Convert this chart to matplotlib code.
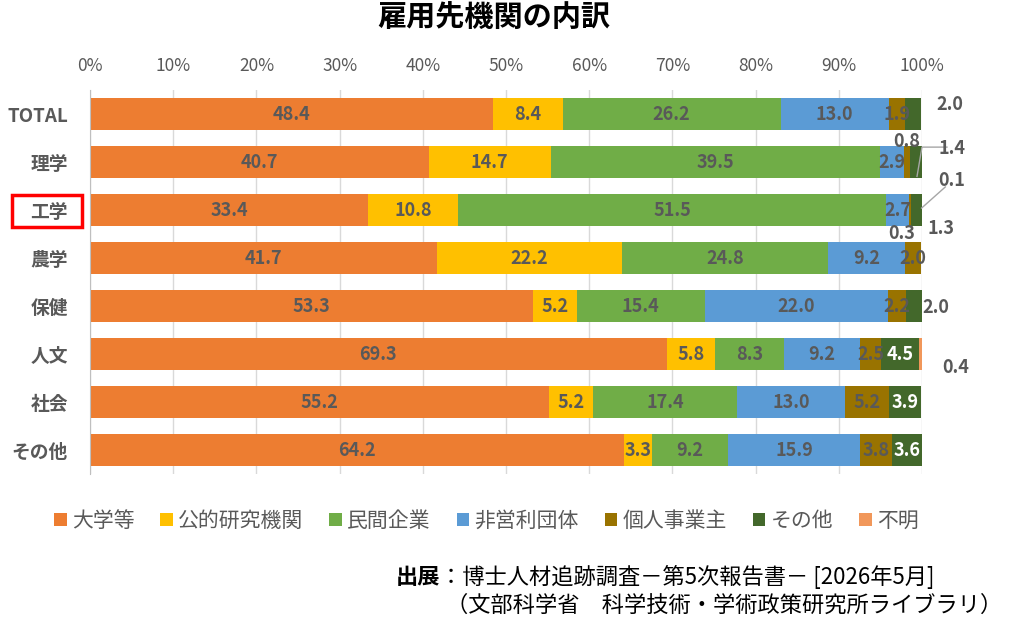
import matplotlib
matplotlib.use("Agg")
import matplotlib.pyplot as plt
from matplotlib.patches import Rectangle, Patch

plt.rcParams['font.family'] = ['Noto Sans CJK JP', 'DejaVu Sans']

# data (percent)
categories = ['TOTAL', '理学', '工学', '農学', '保健', '人文', '社会', 'その他']
series = ['大学等', '公的研究機関', '民間企業', '非営利団体', '個人事業主', 'その他', '不明']
univ    = [48.4, 40.7, 33.4, 41.7, 53.3, 69.3, 55.2, 64.2]
public  = [8.4, 14.7, 10.8, 22.2, 5.2, 5.8, 5.2, 3.3]
company = [26.2, 39.5, 51.5, 24.8, 15.4, 8.3, 17.4, 9.2]
nonprof = [13.0, 2.9, 2.7, 9.2, 22.0, 9.2, 13.0, 15.9]
selfemp = [1.9, 0.8, 0.3, 2.0, 2.2, 2.5, 5.2, 3.8]
other   = [2.0, 1.4, 1.3, 0.0, 2.0, 4.5, 3.9, 3.6]
unknown = [0.0, 0.0, 0.1, 0.0, 0.0, 0.4, 0.0, 0.0]
values = [univ, public, company, nonprof, selfemp, other, unknown]

colors = ['#ED7D31', '#FFC000', '#70AD47', '#5B9BD5', '#997300', '#43682B', '#F1975A']
gray = '#595959'

# labels drawn outside their segment: (series idx, category idx) -> (x %, y)
outside = {
    (5, 0): (103.4, -0.19),
    (4, 1): (98.2, 0.58),
    (5, 1): (103.6, 0.71),
    (6, 2): (103.6, 1.375),
    (5, 2): (102.3, 2.375),
    (4, 2): (97.6, 2.48),
    (5, 4): (101.7, 4.04),
    (6, 5): (104.0, 5.29),
}
# leader lines for some outside labels
leaders = {
    (5, 1): [(103.0, 0.69), (100.0, 0.69), (99.4, 1.3)],
    (6, 2): [(102.8, 1.52), (99.95, 1.96)],
}

fig = plt.figure(figsize=(10.24, 6.26), dpi=100)
ax = fig.add_axes([90 / 1024, 1 - 474 / 626, 832 / 1024, 384 / 626])

ypos = list(range(len(categories)))
left = [0.0] * len(categories)
for si, vals in enumerate(values):
    ax.barh(ypos, vals, left=left, height=0.67, color=colors[si], zorder=2)
    for ci, v in enumerate(vals):
        if v <= 0:
            continue
        if (si, ci) in outside:
            x, y = outside[(si, ci)]
            col = gray
        else:
            x, y = left[ci] + v / 2, ci
            col = 'white' if si == 5 else gray
        ax.text(x, y, f'{v:.1f}', ha='center', va='center', fontsize=13,
                fontweight='bold', color=col, zorder=4)
        if (si, ci) in leaders:
            pts = leaders[(si, ci)]
            ax.plot([p[0] for p in pts], [p[1] for p in pts], color='#A6A6A6',
                    lw=1, zorder=3, clip_on=False)
    left = [l + v for l, v in zip(left, vals)]

ax.set_xlim(0, 100)
ax.set_ylim(7.5, -0.5)
ax.set_xticks(range(0, 101, 10))
ax.set_xticklabels([f'{t}%' for t in range(0, 101, 10)])
ax.xaxis.tick_top()
ax.set_yticks(ypos)
ax.set_yticklabels(categories)
ax.tick_params(axis='x', length=0, pad=11, labelsize=12.5, colors=gray)
ax.tick_params(axis='y', length=0, pad=16, labelsize=13.5, colors=gray)
for lab in ax.get_yticklabels():
    lab.set_fontweight('bold')
ax.grid(axis='x', color='#D9D9D9', lw=1, zorder=0)
for s in ['top', 'right', 'bottom']:
    ax.spines[s].set_visible(False)
ax.spines['left'].set_color('#BFBFBF')

fig.text(494 / 1024, 1 - 18 / 626, '雇用先機関の内訳', ha='center', va='center',
         fontsize=21, fontweight='bold', color='black')

# highlight box around 工学
fig.patches.append(Rectangle((12 / 1024, 1 - 227 / 626), 70 / 1024, 32 / 626,
                             transform=fig.transFigure, fill=False,
                             edgecolor='#FF0000', lw=2.5))

handles = [Patch(facecolor=c, edgecolor='none') for c in colors]
fig.legend(handles, series, loc='center', bbox_to_anchor=(0.475, 1 - 521 / 626),
           ncol=7, frameon=False, fontsize=15, handlelength=0.6, handleheight=0.6,
           handletextpad=0.25, columnspacing=1.25, labelcolor=gray)

fig.text(396 / 1024, 1 - 577 / 626, '出展', ha='left', va='center', fontsize=16,
         fontweight='bold', color='black')
fig.text(440 / 1024, 1 - 577 / 626, '：博士人材追跡調査－第5次報告書－ [2026年5月]',
         ha='left', va='center', fontsize=16, color='black')
fig.text(446 / 1024, 1 - 605 / 626, '（文部科学省　科学技術・学術政策研究所ライブラリ）',
         ha='left', va='center', fontsize=16, color='black')

fig.savefig('out.png', dpi=100)
